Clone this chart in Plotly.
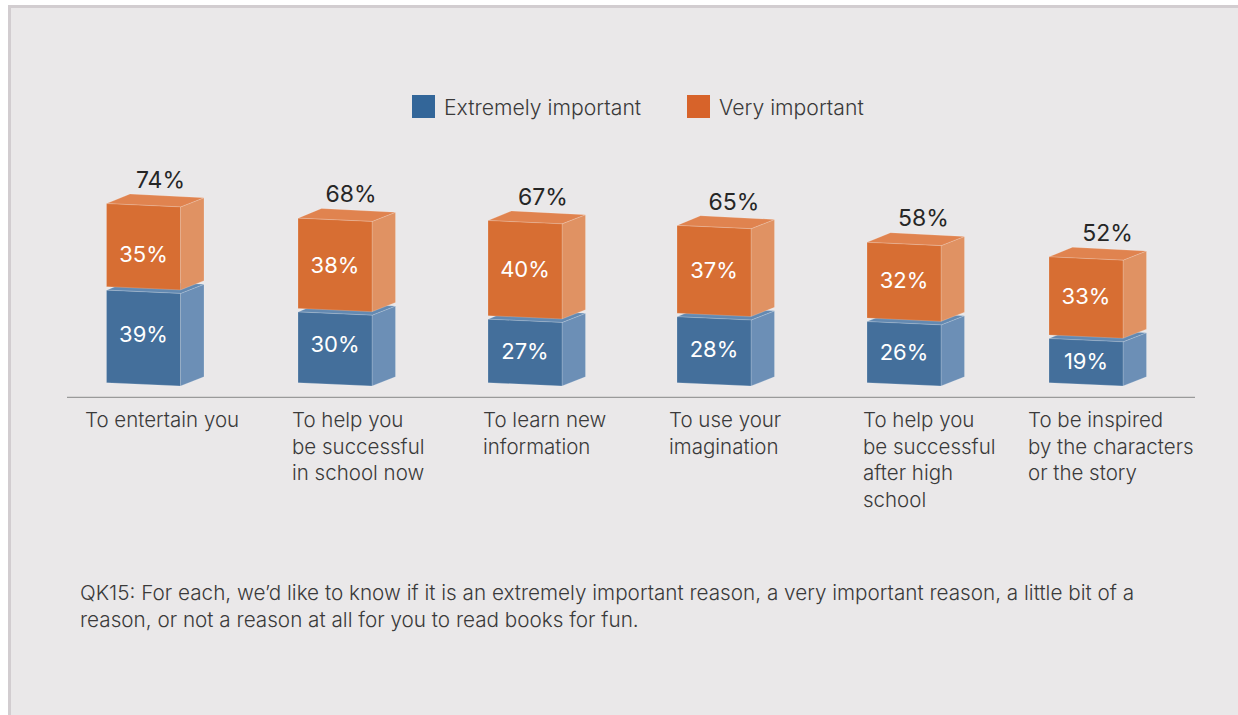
import plotly.graph_objects as go

# ---- data ----
categories = [
    "To entertain you",
    "To help you<br>be successful<br>in school now",
    "To learn new<br>information",
    "To use your<br>imagination",
    "To help you<br>be successful<br>after high<br>school",
    "To be inspired<br>by the characters<br>or the story",
]
extremely = [39, 30, 27, 28, 26, 19]
very = [35, 38, 40, 37, 32, 33]
totals = [74, 68, 67, 65, 58, 52]
series_names = ["Extremely important", "Very important"]
footnote = ("QK15: For each, we’d like to know if it is an extremely important reason, a very important reason, a little bit of a<br>"
            "reason, or not a reason at all for you to read books for fun.")

# ---- layout constants (pixels on the 1238x715 canvas) ----
W, H = 1238, 715
BASE_PX = 386.0
PX_PER = 2.42
bar_left = [106.5, 298, 488, 677, 867, 1049]
bar_w = 74
dx = 23.5
dy = 9.2 / PX_PER
skew = 3.3 / PX_PER
gap_low, gap_high = 0.75, 0.7
cat_left = [83, 289.5, 481, 666.5, 860.5, 1026]
total_x = [160.5, 351, 543, 734, 923.5, 1107.5]
low_off = [0.8, 1.2, 0.0, 0.3, 0.0, -0.4]
high_off = [-2.9, -0.2, 0.4, 0.5, 0.8, 0.8]
FONT = "Inter"
C = dict(
    blue=dict(front="#446f9b", side="#6c8fb6", top="#6389b1"),
    orange=dict(front="#d76e33", side="#e09263", top="#e0834f"),
)
LEG_BLUE, LEG_ORANGE = "#336699", "#d7632a"
BG = "#eae8e9"
EDGE = "#d2cdd0"

y_top = BASE_PX / PX_PER
y_bot = -(H - BASE_PX) / PX_PER

fig = go.Figure()


def face(xs, ys, color, name, group):
    fig.add_trace(go.Scatter(
        x=xs + xs[:1], y=ys + ys[:1], mode="lines", fill="toself", fillcolor=color,
        line=dict(color="rgba(255,255,255,0.30)", width=0.6), hoverinfo="skip",
        showlegend=False, name=name, legendgroup=group))


def box(left, low, high, colors, name):
    r = left + bar_w
    # side
    face([r, r + dx, r + dx, r], [low, low + dy, high + dy, high], colors["side"], name, name)
    # top
    face([left, r, r + dx, left + dx],
         [high + skew, high, high + dy, high + skew + dy + 0.2], colors["top"], name, name)
    # front
    face([left, r, r, left], [low + skew, low, high, high + skew], colors["front"], name, name)


for i in range(len(categories)):
    low_top = extremely[i]
    box(bar_left[i], 0, low_top - gap_low, C["blue"], series_names[0])
    box(bar_left[i], low_top + gap_high, totals[i], C["orange"], series_names[1])

cx = [l + bar_w / 2 for l in bar_left]
fig.add_trace(go.Scatter(
    x=cx, y=[e / 2 + o for e, o in zip(extremely, low_off)], mode="text",
    text=[f"{v}%" for v in extremely], textposition="middle center",
    textfont=dict(family=FONT, size=22, color="white", weight=400),
    showlegend=False, hoverinfo="skip"))
fig.add_trace(go.Scatter(
    x=cx, y=[e + v / 2 + o for e, v, o in zip(extremely, very, high_off)], mode="text",
    text=[f"{v}%" for v in very], textposition="middle center",
    textfont=dict(family=FONT, size=22, color="white", weight=400),
    showlegend=False, hoverinfo="skip"))
fig.add_trace(go.Scatter(
    x=total_x, y=[t + 10.3 for t in totals], mode="text",
    text=[f"{t}%" for t in totals], textposition="middle center",
    textfont=dict(family=FONT, size=23, color="#262626", weight=400),
    showlegend=False, hoverinfo="skip"))

# legend drawn as marker + text, swatches are larger than plotly's legend allows
leg_y = (BASE_PX - 106.5) / PX_PER
for name, col, xpos in [(series_names[0], LEG_BLUE, 423.5), (series_names[1], LEG_ORANGE, 698.5)]:
    fig.add_trace(go.Scatter(
        x=[xpos], y=[leg_y], mode="markers", name=name,
        marker=dict(symbol="square", size=23, color=col, line=dict(width=0)),
        showlegend=False, hoverinfo="skip"))
    fig.add_annotation(x=xpos + 18.8, y=leg_y, xref="x", yref="y", text=name, showarrow=False,
                       xanchor="left", yanchor="middle",
                       font=dict(family=FONT, size=21.2, color="#3a3a3a", weight=300))

# category labels
for t, x in zip(categories, cat_left):
    fig.add_annotation(x=x, y=1 - 405 / H, xref="x", yref="paper", text=t, showarrow=False,
                       xanchor="left", yanchor="top", align="left",
                       font=dict(family=FONT, size=20.5, color="#3a3a3a", weight=300))
fig.add_annotation(x=78, y=1 - 578 / H, xref="x", yref="paper", text=footnote, showarrow=False,
                   xanchor="left", yanchor="top", align="left",
                   font=dict(family=FONT, size=20.7, color="#3a3a3a", weight=300))

fig.update_layout(
    width=W, height=H, margin=dict(l=0, r=0, t=0, b=0),
    paper_bgcolor="white", plot_bgcolor="white", showlegend=False,
    xaxis=dict(range=[0, W], visible=False, fixedrange=True),
    yaxis=dict(range=[y_bot, y_top], visible=False, fixedrange=True),
    shapes=[
        dict(type="rect", xref="paper", yref="paper", x0=9.5 / W, x1=1.2, y0=-0.1, y1=1 - 6.5 / H,
             fillcolor=BG, line=dict(color=EDGE, width=3), layer="below"),
        dict(type="line", xref="x", yref="paper", x0=67, x1=1195, y0=1 - 397.3 / H, y1=1 - 397.3 / H,
             line=dict(color="#9a9a9a", width=1.3), layer="below"),
    ],
)
fig.write_html("out.html", config=dict(displayModeBar=False),
               post_script="document.body.style.margin='0';document.body.style.overflow='hidden';")
